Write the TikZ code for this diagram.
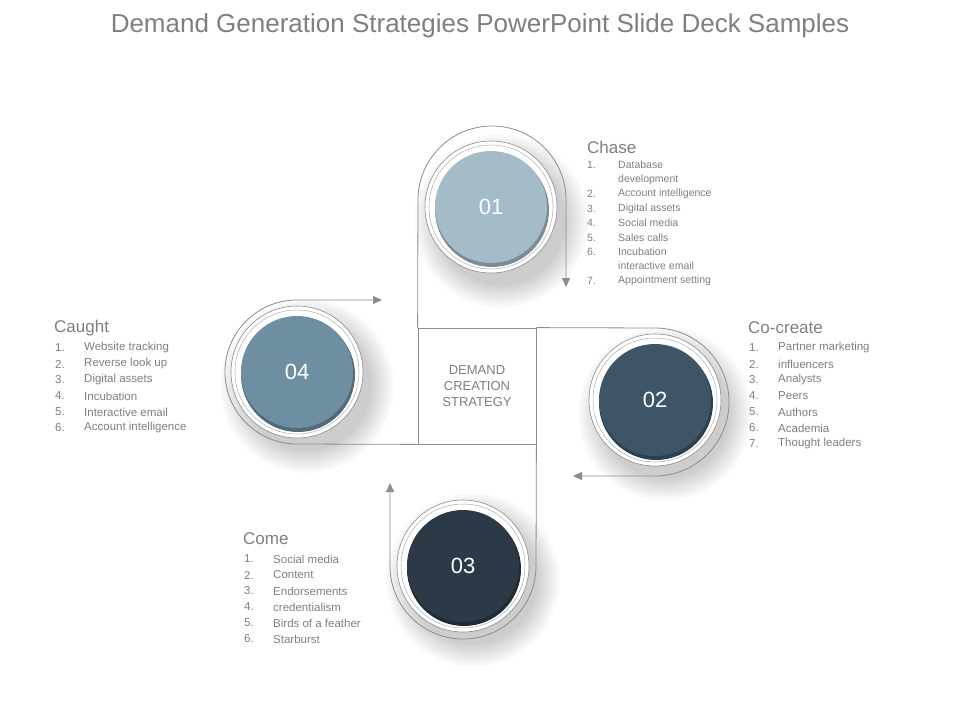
\documentclass[tikz,border=0pt]{standalone}
\usepackage{fontspec}
\setmainfont{Liberation Sans}
\usetikzlibrary{arrows.meta}
\definecolor{txt}{HTML}{7F7F7F}
\definecolor{lin}{HTML}{8C8C8C}
\definecolor{cA}{HTML}{A3BCC8}
\definecolor{cB}{HTML}{3D5567}
\definecolor{cC}{HTML}{2B3A46}
\definecolor{cD}{HTML}{6E8FA2}
\tikzset{
  conn/.style={draw=lin,line width=0.8pt},
  arr/.style={conn,-{Triangle[length=9pt,width=8pt]}},
  head/.style={anchor=west,text=txt,font=\fontsize{17}{17}\selectfont,inner sep=0pt},
  item/.style={anchor=west,text=txt,inner sep=0pt},
  num/.style={text=white,font=\fontsize{22}{22}\selectfont}
}
\newcommand{\disk}[3]{%
  \foreach \k in {1,...,10}{\fill[black,opacity=0.018] (#1+10,#2+14) circle ({62+2.5*\k});}
  \draw[lin,line width=0.6pt,fill=white] (#1,#2) circle (66);
  \draw[lin!70,line width=0.5pt,fill=white] (#1,#2) circle (62);
  \fill[#3!75!black] (#1+1,#2+3) circle (57);
  \fill[#3] (#1,#2) circle (56);
}
\begin{document}
\begin{tikzpicture}[x=1pt,y=-1pt]
\useasboundingbox (0,0) rectangle (960,720);
\fill[white] (0,0) rectangle (960,720);
\node[text=txt,font=\fontsize{26}{26}\selectfont] (title) at (480,26) {Demand Generation Strategies PowerPoint Slide Deck Samples};
% circles
\disk{491}{207}{cA}
\disk{655}{400}{cB}
\disk{463}{566}{cC}
\disk{297}{372}{cD}
\node[num] (n1) at (491,207) {01};
\node[num] (n2) at (655,400) {02};
\node[num] (n3) at (463,566) {03};
\node[num] (n4) at (297,372) {04};
% center
\node[draw=lin,line width=0.8pt,fill=white,minimum width=118pt,minimum height=116pt,inner sep=0pt,align=center,text=txt,font=\fontsize{13}{16}\selectfont] (c) at (477,386) {DEMAND\\CREATION\\STRATEGY};
\coordinate (e1) at (566,287);
\coordinate (e2) at (573,476);
\coordinate (e3) at (390,483);
\coordinate (e4) at (382,300);
\draw[arr] (c.north west) -- (418,200) arc[start angle=180,end angle=0,x radius=74,y radius=-74] -- (e1);
\draw[arr] (c.north east) -- (655,328) arc[start angle=90,end angle=-90,x radius=74,y radius=-74] -- (e2);
\draw[arr] (c.south east) -- (536,566) arc[start angle=0,end angle=-180,x radius=73,y radius=-73] -- (e3);
\draw[arr] (c.south west) -- (297,444) arc[start angle=270,end angle=90,x radius=72,y radius=-72] -- (e4);
% Chase
\node[head] (h1) at (587,147) {Chase};
\begin{scope}[every node/.style={item,font=\fontsize{10.5}{10.5}\selectfont}]
\node at (587,165) {1.}; \node at (618,165) {Database};
\node at (618,180) {development};
\node at (587,194) {2.}; \node at (618,194) {Account intelligence};
\node at (587,209) {3.}; \node at (618,209) {Digital assets};
\node at (587,223) {4.}; \node at (618,223) {Social media};
\node at (587,238) {5.}; \node at (618,238) {Sales calls};
\node at (587,252) {6.}; \node at (618,252) {Incubation};
\node at (618,266) {interactive email};
\node at (587,281) {7.}; \node at (618,281) {Appointment setting};
\end{scope}
\begin{scope}[every node/.style={item,font=\fontsize{11.5}{11.5}\selectfont}]
% Co-create
\node[head] at (748,328) {Co-create};
\node at (749,348) {1.}; \node at (778,348) {Partner marketing};
\node at (749,364) {2.}; \node at (778,364) {influencers};
\node at (749,380) {3.}; \node at (778,380) {Analysts};
\node at (749,396) {4.}; \node at (778,396) {Peers};
\node at (749,412) {5.}; \node at (778,412) {Authors};
\node at (749,428) {6.}; \node at (778,428) {Academia};
\node at (749,444) {7.}; \node at (778,444) {Thought leaders};
% Caught
\node[head] at (54,328) {Caught};
\node at (55,348) {1.}; \node at (84,348) {Website tracking};
\node at (55,364) {2.}; \node at (84,364) {Reverse look up};
\node at (55,380) {3.}; \node at (84,380) {Digital assets};
\node at (55,396) {4.}; \node at (84,396) {Incubation};
\node at (55,412) {5.}; \node at (84,412) {Interactive email};
\node at (55,428) {6.}; \node at (84,428) {Account intelligence};
% Come
\node[head] at (243,539) {Come};
\node at (244,559) {1.}; \node at (273,559) {Social media};
\node at (244,575) {2.}; \node at (273,575) {Content};
\node at (244,591) {3.}; \node at (273,591) {Endorsements};
\node at (244,607) {4.}; \node at (273,607) {credentialism};
\node at (244,623) {5.}; \node at (273,623) {Birds of a feather};
\node at (244,639) {6.}; \node at (273,639) {Starburst};
\end{scope}
\end{tikzpicture}
\end{document}
